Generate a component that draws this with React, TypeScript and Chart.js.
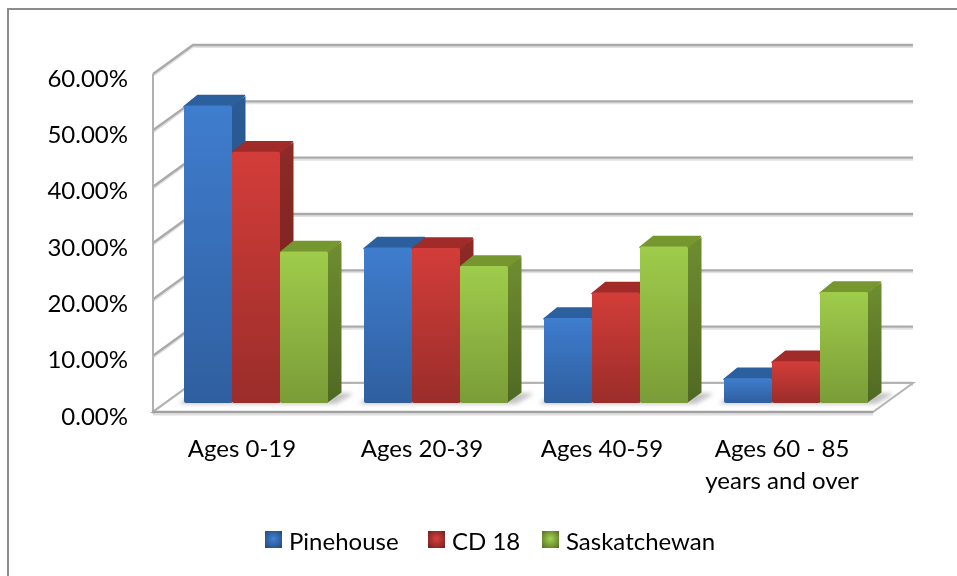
import React, { useEffect, useRef } from "react";
import { Chart, registerables } from "chart.js";

Chart.register(...registerables);

const categories = ["Ages 0-19", "Ages 20-39", "Ages 40-59", ["Ages 60 - 85", "years and over"]];
const yTicks = [0, 10, 20, 30, 40, 50, 60];
const pinehouse = [52.8, 27.6, 15.1, 4.4];
const cd18 = [44.6, 27.5, 19.6, 7.4];
const saskatchewan = [26.9, 24.3, 27.8, 19.7];
const seriesNames = ["Pinehouse", "CD 18", "Saskatchewan"];

const FONT = "Lato, 'Open Sans', sans-serif";
const FONT_SIZE = 24;
const TEXT = "#000000";

const palette = [
  { light: "#3f7dce", dark: "#2f5f9f", sideL: "#2b5c98", sideD: "#214775", top: "#2c5f9e" },
  { light: "#d33d39", dark: "#9a2d2a", sideL: "#8f2a27", sideD: "#6c1f1d", top: "#a02b28" },
  { light: "#9fcc4b", dark: "#7a9c38", sideL: "#6f8e30", sideD: "#506923", top: "#76962f" },
];

const DX = 13.5;
const DY = 10.5;

function poly(ctx: CanvasRenderingContext2D, pts: number[][]) {
  ctx.beginPath();
  pts.forEach((p, i) => (i ? ctx.lineTo(p[0], p[1]) : ctx.moveTo(p[0], p[1])));
  ctx.closePath();
}

const wallsPlugin = {
  id: "walls3d",
  beforeDatasetsDraw(chart: any) {
    const ctx: CanvasRenderingContext2D = chart.ctx;
    const { left, right } = chart.chartArea;
    const y = chart.scales.y;
    const fl = left - 13;
    const fr = right - 13;
    const bl = left + 27;
    const br = right + 27;
    const fy = (v: number) => y.getPixelForValue(v) + 9;
    const by = (v: number) => y.getPixelForValue(v) - 20;

    ctx.save();
    // Outer frame
    ctx.strokeStyle = "#8c8c8c";
    ctx.lineWidth = 2;
    ctx.beginPath();
    ctx.moveTo(8, 576);
    ctx.lineTo(8, 9);
    ctx.lineTo(957, 9);
    ctx.stroke();

    // Back wall and side wall lines
    ctx.lineCap = "butt";
    yTicks.forEach((v) => {
      // soft shade under the line
      ctx.strokeStyle = "#e2e2e2";
      ctx.lineWidth = 2;
      ctx.beginPath();
      ctx.moveTo(fl, fy(v) + 2);
      ctx.lineTo(bl, by(v) + 2);
      ctx.lineTo(br, by(v) + 2);
      ctx.stroke();
      ctx.strokeStyle = "#aaaaaa";
      ctx.lineWidth = 2.4;
      ctx.beginPath();
      ctx.moveTo(fl, fy(v));
      ctx.lineTo(bl, by(v));
      ctx.lineTo(br, by(v));
      ctx.stroke();
    });
    // Vertical edge of the side wall
    ctx.strokeStyle = "#b0b0b0";
    ctx.lineWidth = 2;
    ctx.beginPath();
    ctx.moveTo(fl, fy(60));
    ctx.lineTo(fl, fy(0));
    ctx.stroke();

    // Floor
    poly(ctx, [[fl, fy(0)], [bl, by(0)], [br, by(0)], [fr, fy(0)]]);
    ctx.fillStyle = "#ffffff";
    ctx.fill();
    ctx.strokeStyle = "#b4b4b4";
    ctx.lineWidth = 2;
    ctx.lineJoin = "miter";
    ctx.stroke();
    ctx.strokeStyle = "#dddddd";
    ctx.beginPath();
    ctx.moveTo(fl, fy(0) + 2.5);
    ctx.lineTo(fr, fy(0) + 2.5);
    ctx.stroke();
    ctx.strokeStyle = "#a0a0a0";
    ctx.lineWidth = 2.4;
    ctx.beginPath();
    ctx.moveTo(fl - 1, fy(0));
    ctx.lineTo(fr, fy(0));
    ctx.stroke();

    // Shadow cast on the floor by each group of bars
    const first = chart.getDatasetMeta(0).data;
    const last = chart.getDatasetMeta(2).data;
    ctx.filter = "blur(2px)";
    ctx.fillStyle = "#c4c4c4";
    first.forEach((b: any, i: number) => {
      const l = b.x - b.width / 2;
      const r = last[i].x + last[i].width / 2;
      const base = b.base;
      poly(ctx, [[l - 5, base + 1], [l + 1, base - 4], [r + DX + 4, base - 10], [r + DX + 12, base - 9], [r + 8, base + 1]]);
      ctx.fill();
    });
    ctx.filter = "none";

    // Depth faces of the bars, drawn left to right
    first.forEach((_: any, i: number) => {
      [0, 1, 2].forEach((ds) => {
        const b: any = chart.getDatasetMeta(ds).data[i];
        const c = palette[ds];
        const l = b.x - b.width / 2;
        const r = b.x + b.width / 2;
        const t = b.y;
        const base = b.base;
        const g = ctx.createLinearGradient(0, t - DY, 0, base);
        g.addColorStop(0, c.sideL);
        g.addColorStop(1, c.sideD);
        poly(ctx, [[r - 1, t], [r + DX, t - DY + 1], [r + DX, base - DY], [r - 1, base]]);
        ctx.fillStyle = g;
        ctx.fill();
        ctx.lineJoin = "round";
        ctx.lineWidth = 1.5;
        poly(ctx, [[l, t + 1], [l + DX, t - DY + 0.5], [r + DX - 1, t - DY + 0.5], [r, t + 1]]);
        ctx.fillStyle = c.top;
        ctx.strokeStyle = c.top;
        ctx.stroke();
        ctx.fill();
      });
    });
    ctx.restore();
  },
};

const legendPlugin = {
  id: "legend3d",
  afterDraw(chart: any) {
    const ctx: CanvasRenderingContext2D = chart.ctx;
    const slots = [
      { box: 265, text: 289 },
      { box: 428, text: 452 },
      { box: 542, text: 566 },
    ];
    const cy = 541;
    ctx.save();
    ctx.font = `${FONT_SIZE}px ${FONT}`;
    ctx.textBaseline = "middle";
    chart.data.datasets.forEach((d: any, i: number) => {
      const s = slots[i];
      const c = palette[i];
      ctx.fillStyle = TEXT;
      ctx.fillText(d.label, s.text, cy + 1);
      const size = 17;
      const top = cy - 10;
      const g = ctx.createRadialGradient(s.box + size / 2, top + size * 0.45, 1, s.box + size / 2, top + size / 2, size * 0.72);
      g.addColorStop(0, c.light);
      g.addColorStop(1, c.sideD);
      ctx.fillStyle = g;
      ctx.fillRect(s.box, top, size, size);
    });
    ctx.restore();
  },
};

function faceGradient(i: number) {
  return (ctx: any) => {
    const { chart, raw } = ctx;
    const yScale = chart.scales?.y;
    if (!yScale || typeof raw !== "number") return palette[i].light;
    const top = yScale.getPixelForValue(raw);
    const base = yScale.getPixelForValue(0);
    if (!Number.isFinite(top) || !Number.isFinite(base)) return palette[i].light;
    const g = chart.ctx.createLinearGradient(0, top, 0, base);
    g.addColorStop(0, palette[i].light);
    g.addColorStop(1, palette[i].dark);
    return g;
  };
}

export default function App() {
  const ref = useRef<HTMLCanvasElement>(null);
  useEffect(() => {
    const series = [pinehouse, cd18, saskatchewan];
    const chart = new Chart(ref.current!, {
      type: "bar",
      data: {
        labels: categories as any,
        datasets: series.map((data, i) => ({
          label: seriesNames[i],
          data,
          backgroundColor: faceGradient(i) as any,
          borderRadius: 2,
          borderSkipped: false,
          categoryPercentage: 0.8,
          barPercentage: 1,
        })),
      },
      options: {
        animation: false,
        responsive: false,
        events: [],
        layout: { padding: { top: 65, right: 71, left: 0, bottom: 0 } },
        plugins: { legend: { display: false }, tooltip: { enabled: false }, title: { display: false } },
        scales: {
          x: {
            grid: { display: false },
            border: { display: false },
            afterFit: (s: any) => { s.height = 173; },
            ticks: {
              color: TEXT,
              font: { family: FONT, size: FONT_SIZE, lineHeight: 1.34 },
              labelOffset: -14,
              padding: 22,
              maxRotation: 0,
              autoSkip: false,
            },
          },
          y: {
            min: 0,
            max: 60,
            grid: { display: false, drawTicks: false },
            border: { display: false },
            afterFit: (s: any) => { s.width = 166; },
            afterBuildTicks: (s: any) => { s.ticks = yTicks.map((value) => ({ value })); },
            ticks: {
              color: TEXT,
              font: { family: FONT, size: FONT_SIZE },
              padding: 38,
              labelOffset: 14,
              callback: (v: any) => `${Number(v).toFixed(2)}%`,
            },
          },
        },
      },
      plugins: [wallsPlugin, legendPlugin],
    } as any);
    return () => chart.destroy();
  }, []);
  return (
    <div style={{ position: "fixed", left: 0, top: 0, width: 957, height: 576, background: "#fff" }}>
      <canvas ref={ref} width={957} height={576} style={{ display: "block", width: 957, height: 576, filter: "blur(0.5px)" }} />
    </div>
  );
}
